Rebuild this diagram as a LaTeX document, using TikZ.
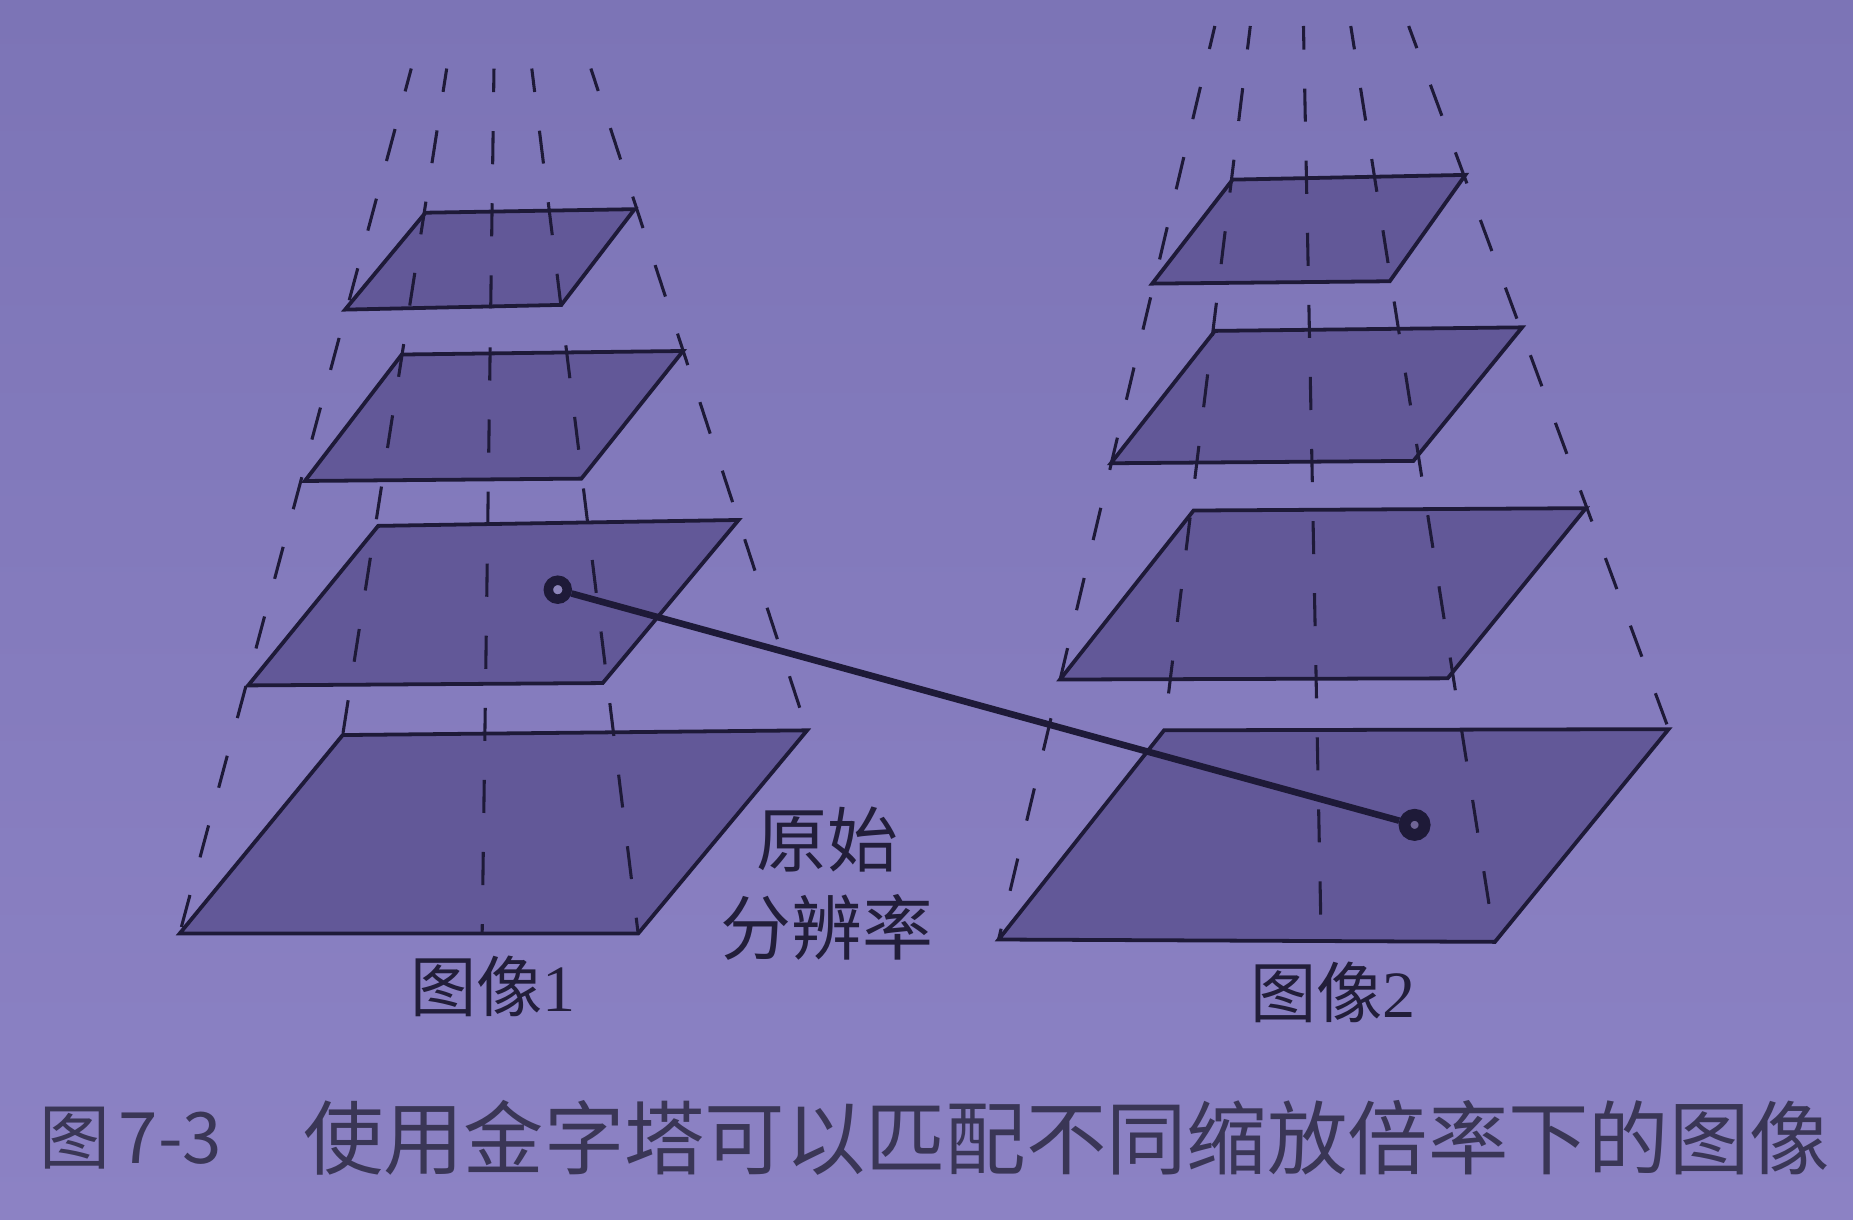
\documentclass[tikz,border=0pt]{standalone}
\usepackage{fontspec}
\setmainfont{Liberation Serif}
\newfontfamily\cjk{Noto Sans CJK SC}
\definecolor{bgtop}{RGB}{124,116,182}
\definecolor{bgbot}{RGB}{140,130,196}
\definecolor{layerfill}{RGB}{98,88,152}
\definecolor{ink}{RGB}{30,26,56}
\definecolor{textink}{RGB}{34,30,58}
\definecolor{capink}{RGB}{58,54,86}
\definecolor{holeL}{RGB}{140,132,186}
\definecolor{holeR}{RGB}{112,102,150}
\begin{document}
\begin{tikzpicture}[x=0.5pt,y=-0.5pt,
  plane/.style={fill=layerfill, draw=ink, line width=1.6pt, line join=miter},
  guide/.style={draw=ink, line width=1.3pt, dash pattern=on 14pt off 16.5pt, dash phase=4pt},
  conn/.style={draw=ink, line width=2.8pt},
  ringL/.style={circle, draw=ink, fill=holeL, line width=4pt, minimum size=8pt, inner sep=0pt},
  ringR/.style={circle, draw=ink, fill=holeR, line width=5pt, minimum size=8.5pt, inner sep=0pt},
  lab/.style={text=textink, inner sep=0pt, font=\fontsize{28pt}{30pt}\selectfont},
  lab2/.style={text=textink, inner sep=0pt, font=\cjk\fontsize{30pt}{32pt}\selectfont},
  captext/.style={text=capink, inner sep=0pt, anchor=west, font=\cjk\fontsize{34pt}{36pt}\selectfont},
  capnum/.style={text=capink, inner sep=0pt, anchor=west, font=\cjk\fontsize{30pt}{32pt}\selectfont}]
\shade[top color=bgtop, bottom color=bgbot] (0,0) rectangle (1568,1032);
\useasboundingbox (0,0) rectangle (1568,1032);

% ---------- left pyramid (image 1) ----------
\draw[plane] (152,790) -- (540,790) -- (683,618) -- (290,622) -- cycle;
\draw[plane] (210,580) -- (510,578) -- (625,440) -- (320,445) -- cycle;
\draw[plane] (258,407) -- (492,405) -- (578,297) -- (340,300) -- cycle;
\draw[plane] (292,262) -- (475,258) -- (537,177) -- (360,180) -- cycle;
\draw[guide] (348,58) -- (152,790);
\draw[guide] (378,58) -- (290,622);
\draw[guide] (418,58) -- (408,790);
\draw[guide] (450,58) -- (540,790);
\draw[guide] (500,58) -- (683,618);

% ---------- right pyramid (image 2) ----------
\draw[plane] (845,795) -- (1265,797) -- (1412,617) -- (985,618) -- cycle;
\draw[plane] (897,575) -- (1225,574) -- (1342,430) -- (1010,432) -- cycle;
\draw[plane] (940,392) -- (1196,390) -- (1288,277) -- (1028,280) -- cycle;
\draw[plane] (975,240) -- (1176,238) -- (1240,148) -- (1043,152) -- cycle;
\draw[guide] (1028,22) -- (845,795);
\draw[guide] (1058,22) -- (985,618);
\draw[guide] (1103,22) -- (1118,797);
\draw[guide] (1143,22) -- (1265,797);
\draw[guide] (1192,22) -- (1412,617);

% ---------- matching connector ----------
\node[ringL] (m1) at (472,499) {};
\node[ringR] (m2) at (1197,698) {};
\draw[conn] (m1) -- (m2);

% ---------- labels ----------
\node[lab2] (orig1) at (700,710) {原始};
\node[lab2] (orig2) at (700,785) {分辨率};
\node[lab] (img1) at (417,835) {{\cjk 图像}1};
\node[lab] (img2) at (1128,840) {{\cjk 图像}2};

% ---------- caption ----------
\node[capnum] (capfig) at (33,963) {图};
\node[capnum] (capno) at (100,963) {7-3};
\node[captext] (captxt) at (256,963) {使用金字塔可以匹配不同缩放倍率下的图像};
\end{tikzpicture}
\end{document}
